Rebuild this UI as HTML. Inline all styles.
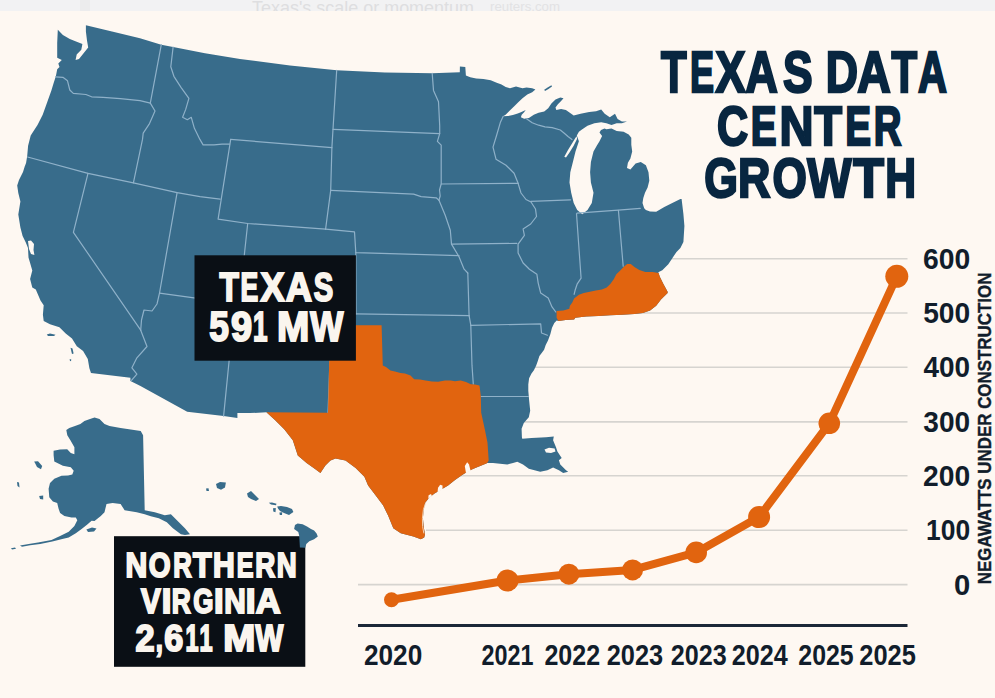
<!DOCTYPE html>
<html><head><meta charset="utf-8"><title>Texas Data Center Growth</title>
<style>html,body{margin:0;padding:0;background:#fef8f2;overflow:hidden}svg{display:block}</style>
</head><body>
<svg width="995" height="698" viewBox="0 0 995 698">
<rect x="0" y="0" width="995" height="698" fill="#fef8f2"/>
<rect x="0" y="0" width="995" height="11" fill="#f2f2f3"/>
<rect x="80" y="0" width="10" height="11" fill="#ececed"/>
<text x="252" y="13.5" font-family="'Liberation Sans', Arial, sans-serif" font-size="18.5" fill="#dedee0" textLength="222" lengthAdjust="spacingAndGlyphs">Texas's scale or momentum</text>
<text x="490" y="10.5" font-family="'Liberation Sans', Arial, sans-serif" font-size="12.5" fill="#e2e2e4" textLength="70" lengthAdjust="spacingAndGlyphs">reuters.com</text>
<rect x="0" y="11" width="995" height="687" fill="#fef8f2"/>
<line x1="540" y1="258.8" x2="907.5" y2="258.8" stroke="#d6d4d0" stroke-width="1.6"/>
<line x1="540" y1="313.0" x2="907.5" y2="313.0" stroke="#d6d4d0" stroke-width="1.6"/>
<line x1="520" y1="367.2" x2="907.5" y2="367.2" stroke="#d6d4d0" stroke-width="1.6"/>
<line x1="520" y1="421.9" x2="907.5" y2="421.9" stroke="#d6d4d0" stroke-width="1.6"/>
<line x1="450" y1="475.8" x2="907.5" y2="475.8" stroke="#d6d4d0" stroke-width="1.6"/>
<line x1="426" y1="530.2" x2="907.5" y2="530.2" stroke="#d6d4d0" stroke-width="1.6"/>
<line x1="358" y1="584.6" x2="907.5" y2="584.6" stroke="#d6d4d0" stroke-width="1.6"/>
<line x1="358" y1="625.4" x2="907.5" y2="625.4" stroke="#1c2838" stroke-width="3"/>
<polygon points="57.8,29.7 62.9,34.9 69.8,38.9 76.7,41.8 82.4,44.1 81.3,49.8 76.7,54.4 75.6,60.1 79.0,59.0 83.6,53.3 88.2,47.5 87.0,40.6 85.9,31.5 85.9,25.2 112.0,31.6 140.0,38.3 161.3,44.7 173.1,47.1 205.0,53.2 240.0,59.0 290.0,65.6 336.7,70.3 385.0,72.6 432.2,73.3 459.8,72.3 459.9,66.5 465.3,67.1 465.9,75.5 470.2,77.3 476.2,78.5 483.4,79.1 490.7,80.3 496.7,82.7 501.5,84.6 505.7,87.0 510.0,88.3 516.0,86.6 522.5,88.2 526.5,87.4 532.2,88.2 535.4,89.4 532.2,92.2 527.3,94.6 522.5,98.3 518.5,101.9 514.5,105.9 509.6,110.7 505.6,114.7 503.2,116.3 508.0,116.0 512.9,115.1 517.7,113.5 520.9,112.3 525.7,109.9 524.1,112.3 521.7,114.7 520.9,117.2 524.1,118.8 528.9,118.0 533.8,114.7 538.6,112.7 544.2,111.5 548.2,108.3 551.4,103.5 555.5,99.5 560.3,97.5 563.5,98.3 561.1,101.1 557.9,104.3 555.5,107.5 556.3,109.9 561.1,109.1 565.9,109.9 569.1,112.3 573.7,115.5 580.6,113.7 589.2,112.0 596.1,111.2 601.2,109.5 604.7,113.7 609.8,117.2 615.0,113.7 617.6,118.9 621.9,121.5 627.0,121.5 621.9,123.2 616.7,123.2 611.5,124.9 606.4,123.2 601.2,122.3 594.4,123.2 587.5,125.8 582.3,129.2 578.9,131.8 576.8,135.5 578.9,141.2 575.5,151.5 572.9,161.9 570.3,172.2 569.5,182.5 571.2,192.8 573.7,203.1 577.2,210.0 582.3,214.3 587.5,210.0 591.8,203.1 593.5,192.8 590.9,182.5 590.1,172.2 590.9,161.9 593.5,151.5 596.9,145.5 599.5,141.2 602.1,136.1 599.5,132.6 601.0,130.0 604.5,128.5 606.4,129.2 611.5,128.4 616.7,130.9 623.6,131.8 628.7,134.4 631.3,137.8 631.3,144.7 632.2,151.5 630.4,158.4 627.9,162.7 627.0,167.9 630.4,169.6 635.6,163.6 640.8,161.9 645.9,165.3 648.5,172.2 649.3,180.8 647.6,187.6 645.0,192.8 643.3,197.9 642.5,203.1 644.2,208.2 645.9,210.0 650.0,211.5 656.2,211.7 664.3,207.0 672.3,203.0 680.4,199.0 681.6,199.0 683.4,214.1 684.4,226.1 683.4,242.1 680.4,248.1 676.3,252.2 672.3,258.2 668.3,264.2 662.3,270.2 658.3,272.2 659.8,276.7 663.4,284.0 667.6,291.8 667.6,293.0 661.0,299.6 656.2,305.7 650.1,310.5 642.9,312.9 634.4,314.1 622.4,314.7 610.3,315.3 598.3,315.9 586.2,316.5 575.3,317.7 574.1,319.5 565.7,320.1 558.4,321.1 556.7,320.6 554.3,323.1 552.0,327.8 550.4,334.1 548.0,340.4 545.7,345.1 544.1,349.8 541.7,353.0 539.4,356.1 537.8,360.9 536.2,365.6 533.9,370.3 531.5,373.5 529.1,378.2 528.3,384.5 528.3,390.8 529.1,399.9 530.2,410.8 528.8,417.2 523.8,423.0 521.6,428.7 521.9,437.3 522.3,438.7 531.6,438.0 546.0,437.3 553.8,436.6 553.1,440.2 556.0,447.3 557.4,451.6 561.7,458.1 558.9,460.2 560.3,464.5 566.0,470.3 568.2,471.7 563.2,473.1 558.9,470.3 553.1,467.4 547.4,470.3 540.2,471.7 534.5,470.3 528.8,468.8 523.0,464.5 517.3,461.7 513.0,463.1 507.3,464.5 500.1,463.8 493.0,463.1 487.2,463.1 486.3,463.6 480.8,465.7 474.0,468.4 468.6,471.1 461.8,475.2 455.0,480.0 448.1,485.4 441.3,489.5 434.5,493.6 429.1,497.7 425.0,503.1 423.6,509.9 422.9,518.1 423.6,526.3 425.0,534.5 424.2,537.6 420.9,539.2 413.4,536.5 400.8,533.3 393.3,528.2 388.2,515.7 383.2,505.6 375.7,495.6 368.1,485.5 364.4,476.7 355.6,467.9 345.5,460.4 335.5,458.4 330.5,460.4 325.4,465.4 320.4,473.0 315.4,469.2 306.6,462.9 297.8,455.4 292.8,440.3 284.0,429.0 275.2,420.2 266.4,412.2 250.0,413.1 237.4,413.1 237.4,418.1 223.6,416.1 187.2,411.8 140.0,385.7 130.4,380.9 130.4,377.8 91.0,373.1 91.0,373.1 89.4,368.3 87.8,358.9 83.1,351.0 76.8,346.2 72.0,338.4 65.7,333.6 59.4,327.3 50.0,324.2 43.7,321.0 42.9,314.7 43.7,305.2 40.5,300.5 35.8,289.5 32.3,287.6 30.1,279.0 32.3,270.4 28.5,257.5 28.0,248.0 25.8,242.5 22.6,236.0 20.4,227.4 18.3,214.5 20.4,201.6 18.3,193.0 17.2,185.5 19.0,180.0 23.0,172.0 25.8,162.9 25.5,166.4 27.2,156.1 28.1,145.7 30.7,135.4 37.5,125.1 42.7,114.7 47.0,102.7 51.3,90.7 53.5,83.5 55.6,76.9 56.1,75.0 57.2,69.3 59.5,67.0 58.3,63.6 61.8,60.1 57.2,57.8 57.2,42.9" fill="#386c8b" />
<polygon points="564.3,156.7 568.0,150.0 572.0,143.5 575.5,137.8 576.8,136.2 577.0,139.0 573.5,146.0 569.5,152.5 566.0,157.5" fill="#fef8f2" />
<polygon points="28.0,241.0 31.0,240.5 34.0,244.0 33.5,250.0 34.4,255.0 31.0,254.0 29.0,249.0" fill="#fef8f2" />
<polygon points="544.2,89.8 548.0,87.2 551.4,85.3 552.0,86.6 548.5,89.0 545.0,91.0" fill="#386c8b" />
<polygon points="46.8,334.5 50.0,333.6 55.5,334.8 54.0,336.0 48.0,336.0" fill="#386c8b" />
<polygon points="70.5,347.8 72.5,348.5 73.6,353.5 72.0,354.0" fill="#386c8b" />
<polygon points="69.7,358.9 71.3,359.5 71.0,361.2 69.9,360.8" fill="#386c8b" />
<polygon points="66.3,430.1 69.3,428.1 75.0,426.0 80.4,424.1 84.4,421.1 90.0,419.0 94.5,417.5 99.5,419.1 104.5,424.1 109.5,426.1 120.6,428.1 130.7,429.5 140.7,431.1 143.1,435.2 144.7,510.2 154.8,512.2 164.8,515.2 170.9,514.2 176.9,520.2 184.9,528.2 190.0,534.3 185.0,535.0 180.9,534.3 172.9,528.2 166.8,522.2 158.8,518.2 150.8,516.2 144.7,514.2 136.7,512.2 124.6,510.2 120.6,504.1 112.6,503.1 106.5,504.1 104.5,512.2 100.5,516.2 94.5,521.0 91.6,520.8 87.3,524.6 81.6,528.9 75.8,533.2 68.7,537.5 62.3,539.0 52.3,541.5 40.2,544.0 30.2,545.3 22.0,546.8 20.0,545.5 30.2,543.8 38.0,542.5 51.5,540.0 60.1,536.1 68.7,531.8 74.4,526.0 77.3,520.3 75.8,517.4 71.5,517.4 64.4,516.0 60.1,513.1 58.6,508.8 57.2,503.1 52.9,501.6 49.3,497.3 48.6,488.7 50.0,483.0 54.3,478.7 61.5,475.8 68.0,475.5 72.3,474.4 73.7,470.8 70.8,467.2 62.9,465.8 54.3,461.5 53.6,455.0 53.6,450.8 60.0,449.5 67.2,449.3 70.8,452.9 74.4,454.3 74.4,447.2 70.4,440.2 67.3,435.2" fill="#386c8b" />
<polygon points="34.2,461.5 38.0,461.3 42.2,466.0 41.0,469.3 37.0,467.0" fill="#386c8b" />
<polygon points="17.0,482.0 19.0,482.5 19.5,487.4 17.5,486.0" fill="#386c8b" />
<polygon points="39.2,496.0 43.2,495.5 43.2,499.5 40.0,499.0" fill="#386c8b" />
<polygon points="86.4,529.5 92.0,527.6 96.5,528.5 94.0,531.6 88.0,532.0" fill="#386c8b" />
<polygon points="11.0,548.3 15.0,547.5 16.0,548.8 12.0,549.5" fill="#386c8b" />
<polygon points="206.0,488.5 208.5,488.3 209.0,491.0 206.5,491.1" fill="#386c8b" />
<polygon points="216.0,484.0 220.0,482.0 225.9,482.5 225.0,487.5 221.0,489.7 217.0,488.0" fill="#386c8b" />
<polygon points="247.0,493.5 251.0,491.1 254.0,494.0 259.0,499.0 256.0,501.0 251.0,499.0 248.0,497.0" fill="#386c8b" />
<polygon points="268.8,502.8 272.0,502.6 276.5,503.8 276.0,505.2 271.0,504.5" fill="#386c8b" />
<polygon points="273.0,508.2 275.8,508.0 275.5,512.2 273.3,511.5" fill="#386c8b" />
<polygon points="277.2,506.5 281.0,505.9 287.0,507.0 292.0,509.0 293.4,512.0 289.0,515.0 284.0,513.0 280.0,511.0 278.0,508.5" fill="#386c8b" />
<polygon points="279.4,512.5 282.2,512.2 282.0,515.0 279.8,515.0" fill="#386c8b" />
<polygon points="544.5,449.5 549.0,447.8 554.6,448.5 555.5,451.5 551.0,453.0 546.0,452.5" fill="#fef8f2" />
<polyline points="55.5,76.8 62.9,77.3 67.5,80.8 69.8,90.0 73.3,93.4 85.9,94.5 91.6,96.8 103.1,97.4 120.3,98.6 140.0,100.7 150.3,103.1" fill="none" stroke="#8fb1c9" stroke-width="1.2" stroke-linejoin="round" stroke-linecap="round" />
<polyline points="161.3,44.7 150.3,103.1" fill="none" stroke="#8fb1c9" stroke-width="1.2" stroke-linejoin="round" stroke-linecap="round" />
<polyline points="150.3,103.1 155.0,111.0 149.5,123.6 143.2,133.1 142.5,139.4 133.4,182.9" fill="none" stroke="#8fb1c9" stroke-width="1.2" stroke-linejoin="round" stroke-linecap="round" />
<polyline points="27.6,157.0 88.0,173.4 133.4,182.9 177.1,192.6 200.0,196.6 220.1,199.1" fill="none" stroke="#8fb1c9" stroke-width="1.2" stroke-linejoin="round" stroke-linecap="round" />
<polyline points="173.1,47.1 170.8,66.8 173.9,76.3 181.0,87.3 188.9,98.4 185.7,109.4 182.6,117.3 187.3,119.7 191.3,117.3 194.4,128.3 199.9,139.4 203.1,144.9 214.1,144.9 222.0,144.1 229.6,144.1" fill="none" stroke="#8fb1c9" stroke-width="1.2" stroke-linejoin="round" stroke-linecap="round" />
<polyline points="230.7,139.4 218.1,219.2 247.7,223.5 325.6,229.2" fill="none" stroke="#8fb1c9" stroke-width="1.2" stroke-linejoin="round" stroke-linecap="round" />
<polyline points="230.7,139.4 331.9,147.6" fill="none" stroke="#8fb1c9" stroke-width="1.2" stroke-linejoin="round" stroke-linecap="round" />
<polyline points="336.7,70.3 333.0,129.3 331.9,147.6 330.7,190.3 325.6,229.2" fill="none" stroke="#8fb1c9" stroke-width="1.2" stroke-linejoin="round" stroke-linecap="round" />
<polyline points="333.0,129.3 439.7,133.6" fill="none" stroke="#8fb1c9" stroke-width="1.2" stroke-linejoin="round" stroke-linecap="round" />
<polyline points="432.2,73.3 433.5,90.4 438.5,101.7 439.7,125.6 439.7,133.6 437.4,141.3 441.2,145.1 441.2,184.0 439.5,190.0 440.2,196.0 439.0,200.2" fill="none" stroke="#8fb1c9" stroke-width="1.2" stroke-linejoin="round" stroke-linecap="round" />
<polyline points="330.7,190.3 413.6,194.1 421.1,196.6 436.2,197.8 439.0,200.2" fill="none" stroke="#8fb1c9" stroke-width="1.2" stroke-linejoin="round" stroke-linecap="round" />
<polyline points="441.2,184.0 518.1,183.3" fill="none" stroke="#8fb1c9" stroke-width="1.2" stroke-linejoin="round" stroke-linecap="round" />
<polyline points="503.2,116.3 500.3,122.6 496.7,135.0 493.0,147.2 496.0,159.2 506.0,165.2 514.1,173.2 518.1,183.3" fill="none" stroke="#8fb1c9" stroke-width="1.2" stroke-linejoin="round" stroke-linecap="round" />
<polyline points="518.1,183.3 521.0,193.0 526.0,199.5 531.0,202.0 535.5,209.0 536.5,216.5 530.7,224.0 523.1,229.0 524.4,235.3 518.1,244.1 518.1,252.9 523.1,263.0 529.4,269.2 536.9,274.3 538.2,283.1 540.7,293.1 548.2,298.1 552.0,306.9 555.8,312.0" fill="none" stroke="#8fb1c9" stroke-width="1.2" stroke-linejoin="round" stroke-linecap="round" />
<polyline points="530.7,201.4 570.6,199.8" fill="none" stroke="#8fb1c9" stroke-width="1.2" stroke-linejoin="round" stroke-linecap="round" />
<polyline points="526.5,118.8 532.2,122.8 538.6,125.2 545.0,126.8 552.2,127.6 560.3,130.0 564.3,133.2 568.0,136.5 572.0,139.5" fill="none" stroke="#8fb1c9" stroke-width="1.2" stroke-linejoin="round" stroke-linecap="round" />
<polyline points="439.0,200.2 445.2,215.2 450.3,230.3 451.5,244.1 459.0,256.7 464.1,269.2 467.8,273.0" fill="none" stroke="#8fb1c9" stroke-width="1.2" stroke-linejoin="round" stroke-linecap="round" />
<polyline points="451.5,244.1 516.8,243.4" fill="none" stroke="#8fb1c9" stroke-width="1.2" stroke-linejoin="round" stroke-linecap="round" />
<polyline points="325.6,229.2 354.5,231.8 355.8,252.6 459.0,255.7" fill="none" stroke="#8fb1c9" stroke-width="1.2" stroke-linejoin="round" stroke-linecap="round" />
<polyline points="355.8,252.6 356.0,314.0" fill="none" stroke="#8fb1c9" stroke-width="1.2" stroke-linejoin="round" stroke-linecap="round" />
<polyline points="467.8,273.0 469.1,315.7" fill="none" stroke="#8fb1c9" stroke-width="1.2" stroke-linejoin="round" stroke-linecap="round" />
<polyline points="356.0,313.9 469.1,315.7" fill="none" stroke="#8fb1c9" stroke-width="1.2" stroke-linejoin="round" stroke-linecap="round" />
<polyline points="469.1,315.7 470.8,325.2 472.0,365.4 473.3,384.2" fill="none" stroke="#8fb1c9" stroke-width="1.2" stroke-linejoin="round" stroke-linecap="round" />
<polyline points="470.6,325.4 540.7,323.8 541.5,333.0 547.4,335.2" fill="none" stroke="#8fb1c9" stroke-width="1.2" stroke-linejoin="round" stroke-linecap="round" />
<polyline points="480.8,396.5 528.5,396.5" fill="none" stroke="#8fb1c9" stroke-width="1.2" stroke-linejoin="round" stroke-linecap="round" />
<polyline points="247.7,223.5 244.2,256.0" fill="none" stroke="#8fb1c9" stroke-width="1.2" stroke-linejoin="round" stroke-linecap="round" />
<polyline points="159.5,293.1 194.0,297.9 196.0,298.2" fill="none" stroke="#8fb1c9" stroke-width="1.2" stroke-linejoin="round" stroke-linecap="round" />
<polyline points="229.3,359.0 223.6,416.1" fill="none" stroke="#8fb1c9" stroke-width="1.2" stroke-linejoin="round" stroke-linecap="round" />
<polyline points="177.1,192.6 159.5,293.1 157.0,304.0 152.0,311.0 144.0,310.0 141.5,320.0 140.7,330.2" fill="none" stroke="#8fb1c9" stroke-width="1.2" stroke-linejoin="round" stroke-linecap="round" />
<polyline points="88.0,173.4 73.4,232.3 140.7,330.2" fill="none" stroke="#8fb1c9" stroke-width="1.2" stroke-linejoin="round" stroke-linecap="round" />
<polyline points="140.7,330.2 147.0,346.5 136.9,357.8 131.9,367.8 136.9,374.1 131.5,380.4" fill="none" stroke="#8fb1c9" stroke-width="1.2" stroke-linejoin="round" stroke-linecap="round" />
<polyline points="330.0,360.0 328.0,412.7" fill="none" stroke="#8fb1c9" stroke-width="1.2" stroke-linejoin="round" stroke-linecap="round" />
<polyline points="576.5,213.5 579.1,250.2 581.1,278.2 577.1,284.2 575.1,290.3 574.1,294.3" fill="none" stroke="#8fb1c9" stroke-width="1.2" stroke-linejoin="round" stroke-linecap="round" />
<polyline points="577.1,213.1 618.2,210.2 640.3,208.4" fill="none" stroke="#8fb1c9" stroke-width="1.2" stroke-linejoin="round" stroke-linecap="round" />
<polyline points="618.4,210.3 623.2,266.2" fill="none" stroke="#8fb1c9" stroke-width="1.2" stroke-linejoin="round" stroke-linecap="round" />
<polygon points="330.0,325.0 357.7,325.2 381.6,325.2 382.8,365.4 386.0,367.0 390.4,370.4 395.0,371.5 400.4,372.9 405.0,373.5 410.5,375.4 414.2,379.2 420.0,379.5 425.5,380.5 432.0,381.5 438.1,381.7 445.0,380.6 450.7,380.5 455.0,381.3 460.7,380.5 466.0,382.0 470.8,384.2 475.0,384.5 479.5,385.5 480.8,396.0 481.2,412.7 485.0,430.3 487.5,442.8 488.7,460.4 487.2,463.1 486.3,463.6 480.8,465.7 474.0,468.4 468.6,471.1 461.8,475.2 455.0,480.0 448.1,485.4 441.3,489.5 434.5,493.6 429.1,497.7 425.0,503.1 423.6,509.9 422.9,518.1 423.6,526.3 425.0,534.5 424.2,537.6 420.9,539.2 413.4,536.5 400.8,533.3 393.3,528.2 388.2,515.7 383.2,505.6 375.7,495.6 368.1,485.5 364.4,476.7 355.6,467.9 345.5,460.4 335.5,458.4 330.5,460.4 325.4,465.4 320.4,473.0 315.4,469.2 306.6,462.9 297.8,455.4 292.8,440.3 284.0,429.0 275.2,420.2 266.4,412.2 328.0,412.7" fill="#e1640f" />
<polygon points="556.6,311.1 563.3,310.5 569.3,308.7 569.9,305.7 572.3,302.6 574.1,298.4 578.9,294.8 583.8,293.0 589.8,291.8 595.8,290.6 601.9,289.4 606.7,287.6 610.3,284.0 613.9,279.1 616.3,274.3 620.0,270.7 623.6,267.1 627.2,264.0 630.8,264.0 634.4,267.1 639.3,270.1 645.3,271.9 652.5,271.9 658.6,273.1 659.8,276.7 663.4,284.0 667.6,291.8 667.6,293.0 661.0,299.6 656.2,305.7 650.1,310.5 642.9,312.9 634.4,314.1 622.4,314.7 610.3,315.3 598.3,315.9 586.2,316.5 575.3,317.7 574.1,319.5 565.7,320.1 558.4,321.1 556.6,317.7" fill="#e1640f" />
<polygon points="466.0,473.3 464.8,466.0 467.2,462.3 469.0,464.5 470.6,470.8" fill="#fef8f2" />
<polygon points="437.5,492.5 438.0,487.8 440.2,484.8 442.5,485.6 442.5,489.5" fill="#fef8f2" />
<polygon points="428.3,498.8 428.6,495.2 431.0,494.0 431.9,496.1" fill="#fef8f2" />
<polyline points="425.6,503.2 423.4,509.5 422.4,518.2 422.6,526.5 423.8,533.0" fill="none" stroke="#f6d9c0" stroke-width="0.9" stroke-linejoin="round" stroke-linecap="round" />
<polyline points="391.5,599.7 507.5,580.5 568.9,574.2 632.6,569.9 696.2,552.4 759.1,517.1 829.3,423.3 896.8,276.3" fill="none" stroke="#e1640f" stroke-width="8" stroke-linejoin="round" stroke-linecap="round" />
<circle cx="391.5" cy="599.7" r="7.5" fill="#e1640f"/>
<circle cx="507.5" cy="580.5" r="11" fill="#e1640f"/>
<circle cx="568.9" cy="574.2" r="10.5" fill="#e1640f"/>
<circle cx="632.6" cy="569.9" r="10.5" fill="#e1640f"/>
<circle cx="696.2" cy="552.4" r="10.8" fill="#e1640f"/>
<circle cx="759.1" cy="517.1" r="11" fill="#e1640f"/>
<circle cx="829.3" cy="423.3" r="10.8" fill="#e1640f"/>
<circle cx="896.8" cy="276.3" r="11.5" fill="#e1640f"/>
<text x="922.96" y="269.01" font-family="'Liberation Sans', Arial, sans-serif" font-weight="bold" font-size="29.66" fill="#111d2b" textLength="47.20" lengthAdjust="spacingAndGlyphs" >600</text>
<text x="923.13" y="323.21" font-family="'Liberation Sans', Arial, sans-serif" font-weight="bold" font-size="29.66" fill="#111d2b" textLength="47.02" lengthAdjust="spacingAndGlyphs" >500</text>
<text x="923.58" y="377.41" font-family="'Liberation Sans', Arial, sans-serif" font-weight="bold" font-size="29.66" fill="#111d2b" textLength="46.57" lengthAdjust="spacingAndGlyphs" >400</text>
<text x="923.36" y="432.07" font-family="'Liberation Sans', Arial, sans-serif" font-weight="bold" font-size="29.60" fill="#111d2b" textLength="46.79" lengthAdjust="spacingAndGlyphs" >300</text>
<text x="923.02" y="486.01" font-family="'Liberation Sans', Arial, sans-serif" font-weight="bold" font-size="29.66" fill="#111d2b" textLength="47.14" lengthAdjust="spacingAndGlyphs" >200</text>
<text x="926.04" y="540.41" font-family="'Liberation Sans', Arial, sans-serif" font-weight="bold" font-size="29.66" fill="#111d2b" textLength="44.05" lengthAdjust="spacingAndGlyphs" >100</text>
<text x="953.94" y="595.11" font-family="'Liberation Sans', Arial, sans-serif" font-weight="bold" font-size="29.66" fill="#111d2b" textLength="16.25" lengthAdjust="spacingAndGlyphs" >0</text>
<g transform="translate(978,583.3) rotate(-90)"><text x="-0.92" y="13.40" font-family="'Liberation Sans', Arial, sans-serif" font-weight="bold" font-size="19.19" fill="#111d2b" stroke="#111d2b" stroke-width="0.4" textLength="311.55" lengthAdjust="spacingAndGlyphs">NEGAWATTS UNDER CONSTRUCTION</text></g>
<text x="363.99" y="665.01" font-family="'Liberation Sans', Arial, sans-serif" font-weight="bold" font-size="29.80" fill="#111d2b" textLength="58.28" lengthAdjust="spacingAndGlyphs" >2020</text>
<text x="481.49" y="665.01" font-family="'Liberation Sans', Arial, sans-serif" font-weight="bold" font-size="29.80" fill="#111d2b" textLength="51.96" lengthAdjust="spacingAndGlyphs" >2021</text>
<text x="544.43" y="665.01" font-family="'Liberation Sans', Arial, sans-serif" font-weight="bold" font-size="29.80" fill="#111d2b" textLength="55.77" lengthAdjust="spacingAndGlyphs" >2022</text>
<text x="606.72" y="664.97" font-family="'Liberation Sans', Arial, sans-serif" font-weight="bold" font-size="29.74" fill="#111d2b" textLength="56.39" lengthAdjust="spacingAndGlyphs" >2023</text>
<text x="670.73" y="664.97" font-family="'Liberation Sans', Arial, sans-serif" font-weight="bold" font-size="29.74" fill="#111d2b" textLength="55.98" lengthAdjust="spacingAndGlyphs" >2023</text>
<text x="731.73" y="665.01" font-family="'Liberation Sans', Arial, sans-serif" font-weight="bold" font-size="29.80" fill="#111d2b" textLength="56.01" lengthAdjust="spacingAndGlyphs" >2024</text>
<text x="798.34" y="665.01" font-family="'Liberation Sans', Arial, sans-serif" font-weight="bold" font-size="29.80" fill="#111d2b" textLength="55.36" lengthAdjust="spacingAndGlyphs" >2025</text>
<text x="859.32" y="665.01" font-family="'Liberation Sans', Arial, sans-serif" font-weight="bold" font-size="29.80" fill="#111d2b" textLength="56.59" lengthAdjust="spacingAndGlyphs" >2025</text>
<rect x="194.5" y="255.3" width="161.4" height="105.4" fill="#0a0f15"/>
<text y="301.10" font-family="'Liberation Sans', Arial, sans-serif" font-weight="bold" font-size="40.26" fill="#faf5ee" stroke="#faf5ee" stroke-width="2.0"><tspan x="219.44" textLength="19.40" lengthAdjust="spacingAndGlyphs">T</tspan><tspan x="240.62" textLength="17.71" lengthAdjust="spacingAndGlyphs">E</tspan><tspan x="260.48" textLength="24.03" lengthAdjust="spacingAndGlyphs">X</tspan><tspan x="285.69" textLength="26.26" lengthAdjust="spacingAndGlyphs">A</tspan><tspan x="313.76" textLength="19.48" lengthAdjust="spacingAndGlyphs">S</tspan></text>
<text y="341.40" font-family="'Liberation Sans', Arial, sans-serif" font-weight="bold" font-size="42.01" fill="#faf5ee" stroke="#faf5ee" stroke-width="2.0"><tspan x="209.31" textLength="19.67" lengthAdjust="spacingAndGlyphs">5</tspan><tspan x="230.88" textLength="21.13" lengthAdjust="spacingAndGlyphs">9</tspan><tspan x="253.10" textLength="14.48" lengthAdjust="spacingAndGlyphs">1</tspan><tspan> </tspan><tspan x="277.01" textLength="32.29" lengthAdjust="spacingAndGlyphs">M</tspan><tspan x="310.17" textLength="33.07" lengthAdjust="spacingAndGlyphs">W</tspan></text>
<rect x="114.0" y="536.2" width="191.3" height="130.6" fill="#0a0f15"/>
<polygon points="297.6,523.5 302.6,524.2 307.0,526.5 311.0,529.1 314.1,530.6 316.6,533.6 317.8,536.6 314.1,539.2 309.3,541.3 306.3,543.9 305.2,547.8 299.9,547.6 299.2,535.7 298.3,531.9 294.1,529.1 295.0,525.0" fill="#386c8b" />
<text y="577.30" font-family="'Liberation Sans', Arial, sans-serif" font-weight="bold" font-size="35.03" fill="#faf5ee" stroke="#faf5ee" stroke-width="2.0"><tspan x="125.49" textLength="21.74" lengthAdjust="spacingAndGlyphs">N</tspan><tspan x="148.65" textLength="21.83" lengthAdjust="spacingAndGlyphs">O</tspan><tspan x="173.18" textLength="18.54" lengthAdjust="spacingAndGlyphs">R</tspan><tspan x="193.06" textLength="18.57" lengthAdjust="spacingAndGlyphs">T</tspan><tspan x="213.09" textLength="21.74" lengthAdjust="spacingAndGlyphs">H</tspan><tspan x="236.72" textLength="16.76" lengthAdjust="spacingAndGlyphs">E</tspan><tspan x="255.35" textLength="20.02" lengthAdjust="spacingAndGlyphs">R</tspan><tspan x="276.76" textLength="19.90" lengthAdjust="spacingAndGlyphs">N</tspan></text>
<text y="613.00" font-family="'Liberation Sans', Arial, sans-serif" font-weight="bold" font-size="35.18" fill="#faf5ee" stroke="#faf5ee" stroke-width="2.0"><tspan x="141.00" textLength="19.70" lengthAdjust="spacingAndGlyphs">V</tspan><tspan x="161.68" textLength="9.64" lengthAdjust="spacingAndGlyphs">I</tspan><tspan x="171.64" textLength="19.00" lengthAdjust="spacingAndGlyphs">R</tspan><tspan x="193.34" textLength="20.17" lengthAdjust="spacingAndGlyphs">G</tspan><tspan x="213.88" textLength="9.64" lengthAdjust="spacingAndGlyphs">I</tspan><tspan x="224.31" textLength="21.50" lengthAdjust="spacingAndGlyphs">N</tspan><tspan x="245.73" textLength="9.84" lengthAdjust="spacingAndGlyphs">I</tspan><tspan x="255.84" textLength="24.87" lengthAdjust="spacingAndGlyphs">A</tspan></text>
<text y="650.50" font-family="'Liberation Sans', Arial, sans-serif" font-weight="bold" font-size="37.65" fill="#faf5ee" stroke="#faf5ee" stroke-width="2.0"><tspan x="135.41" textLength="19.06" lengthAdjust="spacingAndGlyphs">2</tspan><tspan x="155.74" textLength="7.19" lengthAdjust="spacingAndGlyphs">,</tspan><tspan x="164.35" textLength="18.98" lengthAdjust="spacingAndGlyphs">6</tspan><tspan x="185.40" textLength="12.98" lengthAdjust="spacingAndGlyphs">1</tspan><tspan x="199.42" textLength="13.03" lengthAdjust="spacingAndGlyphs">1</tspan><tspan> </tspan><tspan x="223.33" textLength="32.05" lengthAdjust="spacingAndGlyphs">M</tspan><tspan x="255.57" textLength="27.76" lengthAdjust="spacingAndGlyphs">W</tspan></text>
<g>
<text y="92.30" font-family="'Liberation Sans', Arial, sans-serif" font-weight="bold" font-size="56.83" fill="#082640" stroke="#082640" stroke-width="2.4"><tspan x="661.03" textLength="25.62" lengthAdjust="spacingAndGlyphs">T</tspan><tspan x="689.99" textLength="24.01" lengthAdjust="spacingAndGlyphs">E</tspan><tspan x="715.40" textLength="29.99" lengthAdjust="spacingAndGlyphs">X</tspan><tspan x="745.59" textLength="32.29" lengthAdjust="spacingAndGlyphs">A</tspan><tspan x="783.02" textLength="29.61" lengthAdjust="spacingAndGlyphs">S</tspan><tspan> </tspan><tspan x="825.71" textLength="32.26" lengthAdjust="spacingAndGlyphs">D</tspan><tspan x="857.35" textLength="33.48" lengthAdjust="spacingAndGlyphs">A</tspan><tspan x="891.53" textLength="25.62" lengthAdjust="spacingAndGlyphs">T</tspan><tspan x="918.10" textLength="28.96" lengthAdjust="spacingAndGlyphs">A</tspan></text>
<text y="144.50" font-family="'Liberation Sans', Arial, sans-serif" font-weight="bold" font-size="55.67" fill="#082640" stroke="#082640" stroke-width="2.4"><tspan x="717.03" textLength="31.15" lengthAdjust="spacingAndGlyphs">C</tspan><tspan x="750.81" textLength="25.80" lengthAdjust="spacingAndGlyphs">E</tspan><tspan x="779.45" textLength="34.03" lengthAdjust="spacingAndGlyphs">N</tspan><tspan x="814.19" textLength="27.80" lengthAdjust="spacingAndGlyphs">T</tspan><tspan x="845.31" textLength="25.80" lengthAdjust="spacingAndGlyphs">E</tspan><tspan x="873.83" textLength="27.76" lengthAdjust="spacingAndGlyphs">R</tspan></text>
<text y="196.50" font-family="'Liberation Sans', Arial, sans-serif" font-weight="bold" font-size="55.81" fill="#082640" stroke="#082640" stroke-width="2.4"><tspan x="704.33" textLength="33.66" lengthAdjust="spacingAndGlyphs">G</tspan><tspan x="738.00" textLength="32.42" lengthAdjust="spacingAndGlyphs">R</tspan><tspan x="772.39" textLength="34.37" lengthAdjust="spacingAndGlyphs">O</tspan><tspan x="807.25" textLength="44.19" lengthAdjust="spacingAndGlyphs">W</tspan><tspan x="853.24" textLength="30.70" lengthAdjust="spacingAndGlyphs">T</tspan><tspan x="885.14" textLength="30.83" lengthAdjust="spacingAndGlyphs">H</tspan></text>
</g>
</svg>
</body></html>
